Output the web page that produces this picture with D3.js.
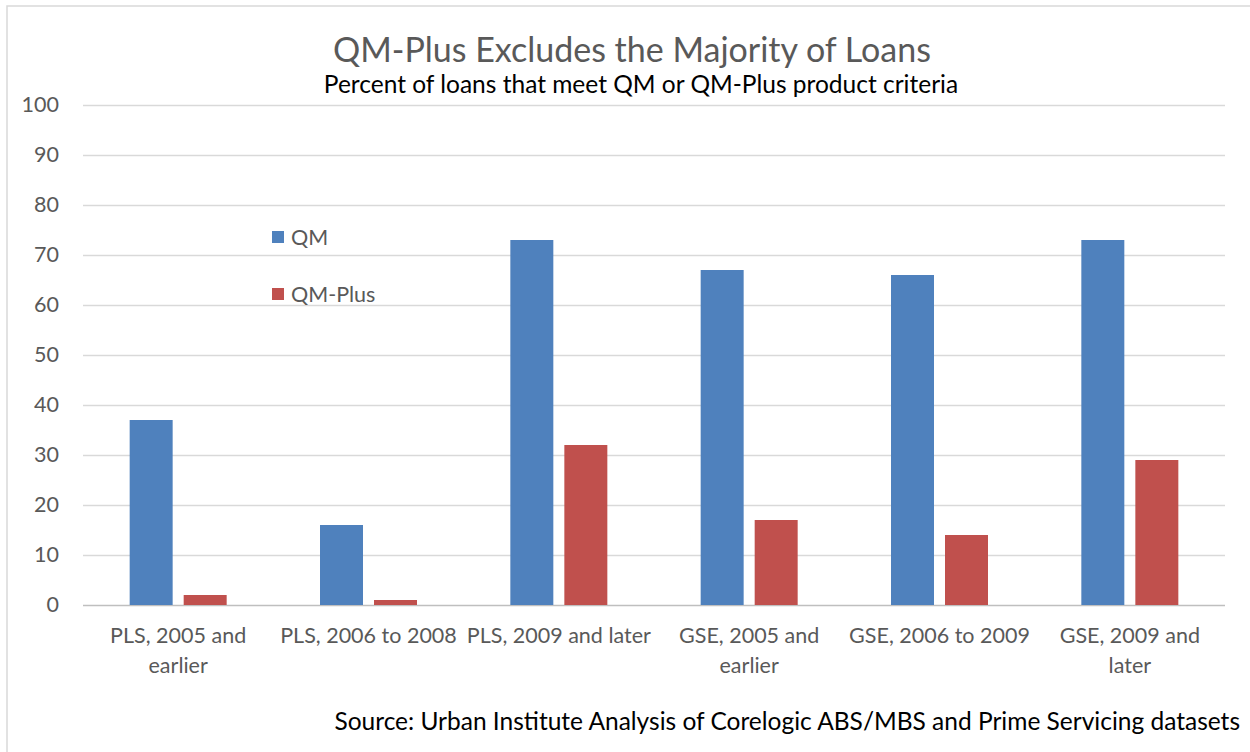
<!DOCTYPE html>
<html>
<head>
<meta charset="utf-8">
<script src="https://cdnjs.cloudflare.com/ajax/libs/d3/7.8.5/d3.min.js"></script>
<style>
  body { margin: 0; background: #fff; }
  svg { display: block; font-family: Lato, "Open Sans", sans-serif; }
</style>
</head>
<body>
<svg class="chart" width="1250" height="752"></svg>
<script>
const categories = [
  ["PLS, 2005 and", "earlier"],
  ["PLS, 2006 to 2008"],
  ["PLS, 2009 and later"],
  ["GSE, 2005 and", "earlier"],
  ["GSE, 2006 to 2009"],
  ["GSE, 2009 and", "later"]
];
const seriesNames = ["QM", "QM-Plus"];
const qmValues = [37, 16, 73, 67, 66, 73];
const qmPlusValues = [2, 1, 32, 17, 14, 29];
const yTicks = [0, 10, 20, 30, 40, 50, 60, 70, 80, 90, 100];
const colors = ["#4f81bd", "#c0504d"];

const plotLeft = 83, plotRight = 1225, plotTop = 105, plotBottom = 605;

const svg = d3.select(".chart");

// outer chart border
svg.append("rect")
  .attr("x", 7).attr("y", 6)
  .attr("width", 1260).attr("height", 760)
  .attr("fill", "none")
  .attr("stroke", "#d9d9d9")
  .attr("stroke-width", 1.5);

const yScale = d3.scaleLinear().domain([0, 100]).range([plotBottom, plotTop]);
const xScale = d3.scaleBand()
  .domain(categories.map((c, i) => i))
  .range([plotLeft, plotRight]);
const xInner = d3.scaleBand()
  .domain(seriesNames)
  .range([xScale.bandwidth() / 2 - 48.5, xScale.bandwidth() / 2 + 48.5])
  .paddingInner(0.204);

// gridlines + y labels
const yAxis = svg.append("g")
  .attr("transform", `translate(${plotLeft},0)`)
  .call(d3.axisLeft(yScale).tickValues(yTicks).tickSize(-(plotRight - plotLeft)).tickPadding(24));
yAxis.select(".domain").remove();
yAxis.selectAll(".tick line")
  .attr("stroke", d => d === 0 ? "#bfbfbf" : "#d9d9d9")
  .attr("stroke-width", 1.3);
yAxis.selectAll(".tick text")
  .attr("fill", "#595959")
  .style("font-size", "21.5px")
  .style("font-family", "Lato, sans-serif");

// bars
const data = categories.map((c, i) => ({ i, vals: [qmValues[i], qmPlusValues[i]] }));
const groups = svg.selectAll(".grp")
  .data(data)
  .enter()
  .append("g")
  .attr("transform", d => `translate(${xScale(d.i)},0)`);

groups.selectAll("rect")
  .data(d => d.vals.map((v, k) => ({ name: seriesNames[k], v, k })))
  .enter()
  .append("rect")
  .attr("x", d => xInner(d.name))
  .attr("y", d => yScale(d.v))
  .attr("width", xInner.bandwidth())
  .attr("height", d => plotBottom - yScale(d.v))
  .attr("fill", d => colors[d.k]);

// x category labels
groups.each(function(d) {
  const t = d3.select(this).append("text")
    .attr("x", xScale.bandwidth() / 2)
    .attr("y", 643)
    .attr("text-anchor", "middle")
    .attr("fill", "#595959")
    .style("font-size", "21.5px");
  categories[d.i].forEach((line, j) => {
    t.append("tspan")
      .attr("x", xScale.bandwidth() / 2)
      .attr("dy", j === 0 ? 0 : 30)
      .text(line);
  });
});

// legend
const legend = svg.append("g");
seriesNames.forEach((name, k) => {
  const y = 237 + k * 57;
  legend.append("rect")
    .attr("x", 272).attr("y", y - 6)
    .attr("width", 12).attr("height", 12)
    .attr("fill", colors[k]);
  legend.append("text")
    .attr("x", 291).attr("y", y + 8)
    .attr("fill", "#595959")
    .style("font-size", "21.5px")
    .text(name);
});

// titles
svg.append("text")
  .attr("x", 632).attr("y", 62)
  .attr("text-anchor", "middle")
  .attr("fill", "#595959")
  .style("font-size", "34px")
  .text("QM-Plus Excludes the Majority of Loans");

svg.append("text")
  .attr("x", 641).attr("y", 93)
  .attr("text-anchor", "middle")
  .attr("fill", "#000")
  .style("font-size", "24.5px")
  .text("Percent of loans that meet QM or QM-Plus product criteria");

svg.append("text")
  .attr("x", 1240).attr("y", 730)
  .attr("text-anchor", "end")
  .attr("fill", "#000")
  .style("font-size", "24.5px")
  .text("Source: Urban Institute Analysis of Corelogic ABS/MBS and Prime Servicing datasets");
</script>
</body>
</html>
